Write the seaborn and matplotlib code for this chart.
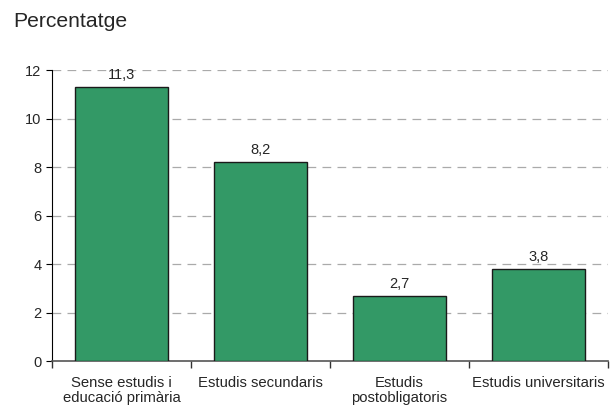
import matplotlib
matplotlib.use("Agg")
import matplotlib.pyplot as plt
import seaborn as sns
import pandas as pd

categories = ["Sense estudis i\neducació primària", "Estudis secundaris",
              "Estudis\npostobligatoris", "Estudis universitaris"]
values = [11.3, 8.2, 2.7, 3.8]
labels = ["11,3", "8,2", "2,7", "3,8"]

sns.set_style("white")
plt.rcParams['font.family'] = ['Liberation Sans', 'DejaVu Sans']

df = pd.DataFrame({"cat": categories, "val": values})
fig = plt.figure(figsize=(6.13, 4.07), dpi=100)
ax = fig.add_axes([0.0848, 0.113, 0.907, 0.715])
sns.barplot(data=df, x="cat", y="val", color="#339966", saturation=1,
            edgecolor="#1a1a1a", linewidth=1, width=0.67, ax=ax, zorder=3)
ax.set_xlim(-0.5, 3.5)
ax.set_ylim(0, 12)
ax.set_yticks(range(0, 13, 2))
ax.set_xlabel("")
ax.set_ylabel("")
for y in range(2, 13, 2):
    ax.axhline(y, color="#aaaaaa", lw=0.9, ls=(0, (7, 5)), zorder=1)
for i, (v, t) in enumerate(zip(values, labels)):
    ax.text(i, v + 0.2, t, ha="center", va="bottom", fontsize=10.5, zorder=4)
ax.set_xticks([0, 1, 2, 3])
ax.set_xticklabels(categories, fontsize=10.7, linespacing=1.05)
ax.tick_params(axis="x", which="major", length=0, pad=11, bottom=False)
ax.set_xticks([-0.5, 0.5, 1.5, 2.5, 3.5], minor=True)
ax.tick_params(axis="x", which="minor", bottom=True, length=5, width=1,
               color="#333333", direction="out")
ax.tick_params(axis="y", length=4, direction="out", left=True, labelsize=10.5, color="black")
for s in ["top", "right"]:
    ax.spines[s].set_visible(False)
ax.spines["left"].set_color("black")
ax.spines["bottom"].set_color("#555555")
ax.spines["bottom"].set_linewidth(1.2)
fig.text(0.021, 0.948, "Percentatge", fontsize=15.2, ha="left", va="center")
fig.savefig("out.png", dpi=100)
